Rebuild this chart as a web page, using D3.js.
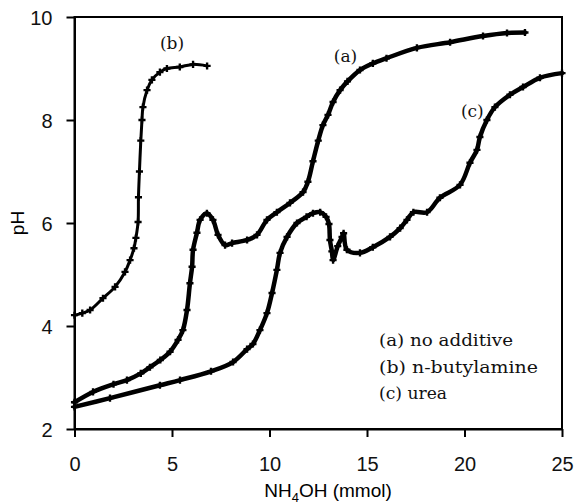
<!DOCTYPE html>
<html>
<head>
<script src="https://cdn.jsdelivr.net/npm/d3@7"></script>
<style>
  body { margin: 0; background: #fff; }
  .tick text { font-family: "Liberation Sans", Arial, sans-serif; font-size: 20px; fill: #111; }
  .note { font-family: "DejaVu Serif", serif; font-size: 17px; fill: #111; }
  .legend { font-family: "DejaVu Serif", serif; font-size: 16px; fill: #111; }
  .title { font-family: "Liberation Sans", Arial, sans-serif; font-size: 19px; fill: #000; }
</style>
</head>
<body>
<div id="chart"></div>
<script>
// NH4OH added (mmol) vs pH
var xA = [0, 0.95, 2.0, 2.69, 3.4, 3.87, 4.4, 4.9, 5.31, 5.56, 5.77, 5.92, 6.03, 6.08, 6.28, 6.44, 6.79, 7.1, 7.36, 7.72, 8.08, 8.85, 9.36, 9.87, 10.38, 11.05, 11.72, 11.97, 12.23, 12.5, 12.74, 13.0, 13.26, 13.62, 14.0, 14.64, 15.3, 16.0, 17.56, 19.26, 20.95, 22.18, 23.1];
var pA = [2.52, 2.72, 2.87, 2.95, 3.08, 3.2, 3.34, 3.5, 3.73, 3.92, 4.31, 4.83, 5.15, 5.48, 5.81, 6.06, 6.19, 6.06, 5.77, 5.57, 5.61, 5.67, 5.77, 6.06, 6.21, 6.39, 6.6, 6.8, 7.2, 7.6, 7.9, 8.1, 8.35, 8.58, 8.75, 8.97, 9.1, 9.2, 9.4, 9.51, 9.63, 9.69, 9.7];

var xB = [0, 0.4, 0.8, 1.46, 2.08, 2.59, 2.85, 3.05, 3.15, 3.26, 3.28, 3.33, 3.4, 3.46, 3.51, 3.72, 3.97, 4.38, 4.74, 5.4, 6.08, 6.8];
var pB = [4.21, 4.25, 4.31, 4.54, 4.76, 5.05, 5.28, 5.51, 5.71, 6.02, 6.5, 7.0, 7.6, 8.0, 8.25, 8.58, 8.78, 8.93, 9.0, 9.03, 9.08, 9.05];

var xC = [0, 1.82, 4.38, 5.41, 7.0, 8.13, 8.85, 9.15, 9.51, 9.87, 10.13, 10.38, 10.54, 10.9, 11.41, 11.9, 12.23, 12.6, 12.9, 13.05, 13.1, 13.2, 13.26, 13.5, 13.72, 13.8, 13.97, 14.64, 15.3, 16.18, 16.7, 17.05, 17.38, 18.08, 18.74, 19.77, 20.28, 20.64, 20.79, 21.15, 21.56, 22.33, 23.0, 23.87, 25];
var pC = [2.43, 2.6, 2.85, 2.95, 3.12, 3.3, 3.55, 3.65, 3.92, 4.25, 4.64, 5.09, 5.42, 5.73, 6.0, 6.12, 6.19, 6.21, 6.12, 5.98, 5.67, 5.45, 5.28, 5.55, 5.73, 5.8, 5.48, 5.42, 5.53, 5.73, 5.9, 6.06, 6.21, 6.21, 6.49, 6.74, 7.17, 7.42, 7.67, 8.0, 8.25, 8.49, 8.64, 8.82, 8.91];

var xTicks = [0, 5, 10, 15, 20, 25];
var yTicks = [2, 4, 6, 8, 10];
var legendLines = ["(a) no additive", "(b) n-butylamine", "(c) urea"];
var legendWidths = [134, 159, 68];

var width = 582, height = 504;
var svg = d3.select("#chart").append("svg")
    .attr("width", width)
    .attr("height", height);

var x = d3.scaleLinear().domain([0, 25]).range([74.5, 562]);
var y = d3.scaleLinear().domain([2, 10]).range([429, 17]);

// frame
svg.append("rect")
    .attr("x", x(0)).attr("y", y(10))
    .attr("width", x(25) - x(0)).attr("height", y(2) - y(10))
    .attr("fill", "none").attr("stroke", "#000").attr("stroke-width", 2);

var xAxis = svg.append("g")
    .attr("transform", "translate(0," + y(2) + ")")
    .call(d3.axisBottom(x).tickValues(xTicks).tickSize(8).tickSizeOuter(0).tickPadding(20));
var yAxis = svg.append("g")
    .attr("transform", "translate(" + x(0) + ",0)")
    .call(d3.axisLeft(y).tickValues(yTicks).tickSize(8).tickSizeOuter(0).tickPadding(14));
[xAxis, yAxis].forEach(function(g) {
    g.select(".domain").attr("stroke-width", 2);
    g.selectAll(".tick line").attr("stroke-width", 2);
});
yAxis.selectAll(".tick text").attr("dy", "0.35em");

// curves
var series = [
    { xs: xA, ps: pA },
    { xs: xB, ps: pB },
    { xs: xC, ps: pC }
];
var line = d3.line()
    .x(d => x(d[0]))
    .y(d => y(d[1]))
    .curve(d3.curveCatmullRom);
var plus = d3.symbol().type(d3.symbolCross).size(28);

series.forEach(function(s, k) {
    var pts = s.xs.map((v, i) => [v, s.ps[i]]);
    svg.append("path")
        .datum(pts)
        .attr("d", line)
        .attr("fill", "none")
        .attr("stroke", "#000")
        .attr("stroke-width", k === 1 ? 3 : 4.5)
        .attr("stroke-linejoin", "round")
        .attr("stroke-linecap", "round");
    svg.selectAll(".m" + k)
        .data(pts)
        .enter().append("path")
        .attr("class", "m" + k)
        .attr("transform", d => "translate(" + x(d[0]) + "," + y(d[1]) + ")")
        .attr("d", plus)
        .attr("fill", "#000");
});

// curve labels
var labels = [
    { t: "(a)", v: 13.9, p: 9.25 },
    { t: "(b)", v: 5.0, p: 9.5 },
    { t: "(c)", v: 20.4, p: 8.17 }
];
svg.selectAll(".lab")
    .data(labels)
    .enter().append("text")
    .attr("class", "note")
    .attr("x", d => x(d.v))
    .attr("y", d => y(d.p))
    .attr("dy", "0.35em")
    .attr("text-anchor", "middle")
    .text(d => d.t);

// legend
svg.selectAll(".leg")
    .data(legendLines)
    .enter().append("text")
    .attr("class", "legend")
    .attr("x", 379)
    .attr("y", (d, i) => 346 + i * 26.5)
    .attr("textLength", (d, i) => legendWidths[i])
    .attr("lengthAdjust", "spacingAndGlyphs")
    .text(d => d);

// axis titles
var xt = svg.append("text")
    .attr("class", "title")
    .attr("x", 328)
    .attr("y", 497)
    .attr("text-anchor", "middle");
xt.append("tspan").text("NH");
xt.append("tspan").attr("font-size", "13px").attr("dy", 5).text("4");
xt.append("tspan").attr("dy", -5).text("OH (mmol)");

svg.append("text")
    .attr("class", "title")
    .attr("transform", "translate(24," + y(6) + ") rotate(-90)")
    .attr("text-anchor", "middle")
    .text("pH");
</script>
</body>
</html>
